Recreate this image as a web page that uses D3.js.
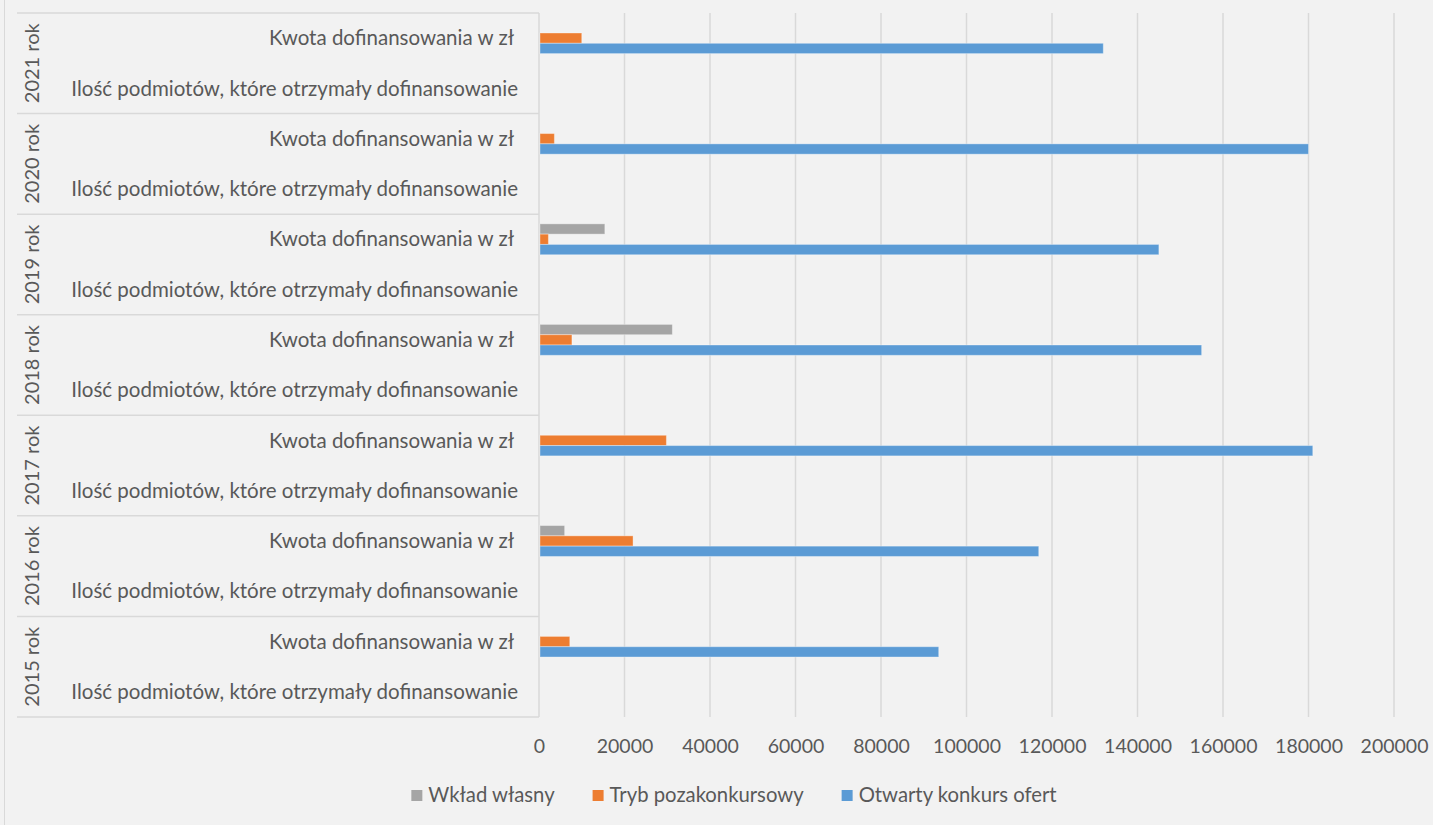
<!DOCTYPE html>
<html>
<head>
<meta charset="utf-8">
<script src="https://cdn.jsdelivr.net/npm/d3@7"></script>
<style>
  html, body { margin: 0; padding: 0; background: #f2f2f2; }
  svg { display: block; }
  text { font-family: Lato, "Open Sans", sans-serif; fill: #595959; }
</style>
</head>
<body>
<script>
// ---- Data ----
const years = ["2021 rok", "2020 rok", "2019 rok", "2018 rok", "2017 rok", "2016 rok", "2015 rok"];
const subcats = ["Kwota dofinansowania w zł", "Ilość podmiotów, które otrzymały dofinansowanie"];
const seriesNames = ["Wkład własny", "Tryb pozakonkursowy", "Otwarty konkurs ofert"];
const seriesColors = ["#a5a5a5", "#ed7d31", "#5b9bd5"];
// Kwota dofinansowania w zł (per year, same order as years)
const wkladKwota    = [0, 0, 15400, 31200, 0, 6000, 0];
const trybKwota     = [10000, 3600, 2200, 7700, 29800, 22000, 7200];
const otwartyKwota  = [132000, 180000, 145000, 155000, 181000, 116900, 93500];
// Ilość podmiotów – values too small to be visible on this scale
const wkladIlosc    = [null, null, null, null, null, null, null];
const trybIlosc     = [null, null, null, null, null, null, null];
const otwartyIlosc  = [null, null, null, null, null, null, null];
const tickValues = [0, 20000, 40000, 60000, 80000, 100000, 120000, 140000, 160000, 180000, 200000];

(function () {
// ---- Build rows ----
const kwota = [wkladKwota, trybKwota, otwartyKwota];
const ilosc = [wkladIlosc, trybIlosc, otwartyIlosc];
const rows = [];
years.forEach((y, i) => {
  subcats.forEach((s, j) => {
    const src = j === 0 ? kwota : ilosc;
    seriesNames.forEach((n, k) => {
      rows.push({year: y, sub: s, series: n, value: src[k][i]});
    });
  });
});

const W = 1433, H = 825;
const svg = d3.select("body").append("svg").attr("width", W).attr("height", H);

const plotTop = 13, plotBottom = 717, x0 = 539, x1 = 1394, catLeft = 17;

const x = d3.scaleLinear().domain([0, 200000]).range([x0, x1]);
const yYear = d3.scaleBand().domain(years).range([plotTop, plotBottom]).padding(0);
const ySub = d3.scaleBand().domain(subcats).range([0, yYear.bandwidth()]).padding(0);
const ySer = d3.scaleBand().domain(seriesNames).range([0, ySub.bandwidth()]).paddingInner(0).paddingOuter(0.94);
const color = d3.scaleOrdinal().domain(seriesNames).range(seriesColors);

// chart outer border (left)
svg.append("line").attr("x1", 4.5).attr("x2", 4.5).attr("y1", 0).attr("y2", H)
  .attr("stroke", "#d9d9d9").attr("stroke-width", 1);

// gridlines
svg.append("g").selectAll("line").data(tickValues).join("line")
  .attr("x1", d => x(d)).attr("x2", d => x(d))
  .attr("y1", plotTop).attr("y2", plotBottom)
  .attr("stroke", "#d9d9d9").attr("stroke-width", 1.5);

// category axis separators
const bounds = years.map(y => yYear(y)).concat([plotBottom]);
svg.append("g").selectAll("line").data(bounds).join("line")
  .attr("x1", catLeft).attr("x2", x0)
  .attr("y1", d => d).attr("y2", d => d)
  .attr("stroke", "#d9d9d9").attr("stroke-width", 1.5);

// bars
svg.append("g").selectAll("rect").data(rows.filter(r => r.value != null && r.value > 0)).join("rect")
  .attr("x", x(0) + 1)
  .attr("y", d => yYear(d.year) + ySub(d.sub) + ySer(d.series))
  .attr("width", d => x(d.value) - x(0) - 1)
  .attr("height", ySer.bandwidth())
  .attr("fill", d => color(d.series))
  .attr("stroke", "rgba(255,255,255,0.35)")
  .attr("stroke-width", 1);

// inner category labels
const labelG = svg.append("g");
years.forEach(y => {
  subcats.forEach((s, j) => {
    labelG.append("text")
      .attr("x", j === 0 ? 514 : 518)
      .attr("y", yYear(y) + ySub(s) + ySub.bandwidth() / 2)
      .attr("dy", "0.35em")
      .attr("text-anchor", "end")
      .style("font-size", "20.5px")
      .text(s);
  });
});

// year labels (rotated)
svg.append("g").selectAll("text").data(years).join("text")
  .attr("transform", d => `translate(32,${yYear(d) + yYear.bandwidth() / 2}) rotate(-90)`)
  .attr("text-anchor", "middle")
  .attr("dy", "0.35em")
  .style("font-size", "20px")
  .text(d => d);

// value axis
const axis = d3.axisBottom(x).tickValues(tickValues).tickFormat(d3.format("d")).tickSize(0).tickPadding(22);
const ax = svg.append("g").attr("transform", `translate(0,${plotBottom})`).call(axis);
ax.select(".domain").remove();
ax.selectAll("text").style("font-size", "19.5px").style("fill", "#595959").style("font-family", "Lato, 'Open Sans', sans-serif");

// legend
const legend = svg.append("g");
const items = [];
seriesNames.forEach((n) => {
  const g = legend.append("g");
  g.append("rect").attr("x", 0).attr("y", -5).attr("width", 11).attr("height", 11).attr("fill", color(n));
  const t = g.append("text").attr("x", 17).attr("dy", "0.35em").style("font-size", "20.3px").text(n);
  const w = 17 + t.node().getComputedTextLength();
  items.push({g, w});
});
const gap = 38;
const total = items.reduce((a, b) => a + b.w, 0) + gap * (items.length - 1);
let start = 734 - total / 2;
items.forEach(it => { it.g.attr("transform", `translate(${start},795)`); start += it.w + gap; });
})();
</script>
</body>
</html>
